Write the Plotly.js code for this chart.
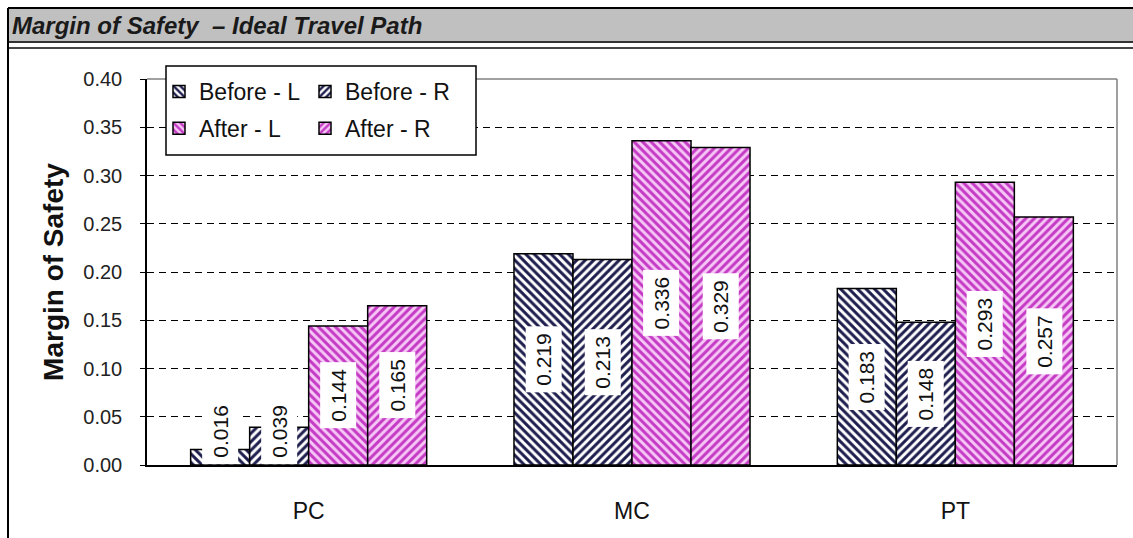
<!DOCTYPE html>
<html>
<head>
<meta charset="utf-8">
<script src="https://cdn.plot.ly/plotly-3.0.1.min.js"></script>
<style>html,body{margin:0;padding:0;background:#fff;}</style>
</head>
<body>
<div id="chart" style="width:1133px;height:538px;"></div>
<script>
const categories = ["PC", "MC", "PT"];
const seriesNames = ["Before - L", "Before - R", "After - L", "After - R"];
const beforeL = [0.016, 0.219, 0.183];
const beforeR = [0.039, 0.213, 0.148];
const afterL = [0.144, 0.336, 0.293];
const afterR = [0.165, 0.329, 0.257];
const yTicks = [0, 0.05, 0.10, 0.15, 0.20, 0.25, 0.30, 0.35, 0.40];

const seriesValues = [beforeL, beforeR, afterL, afterR];
const navy = "#1e1e4e";
const magenta = "#c43ac4";
const styles = [
  {shape: "\\", fg: navy, bg: "#ffffff", legend: "legend"},
  {shape: "/", fg: navy, bg: "#ffffff", legend: "legend2"},
  {shape: "\\", fg: magenta, bg: "#f6c8f6", legend: "legend"},
  {shape: "/", fg: magenta, bg: "#f6c8f6", legend: "legend2"}
];
const bargap = 0.27;

const traces = seriesValues.map((vals, i) => ({
  type: "bar",
  name: seriesNames[i],
  x: categories,
  y: vals,
  legend: styles[i].legend,
  legendgroup: "g" + i,
  marker: {
    color: styles[i].bg,
    line: {color: "#000000", width: 1.5},
    pattern: {shape: styles[i].shape, fgcolor: styles[i].fg, bgcolor: styles[i].bg,
              fillmode: "replace", size: 6, solidity: 0.5}
  },
  hoverinfo: "x+y+name"
}));

const barW = (1 - bargap) / seriesValues.length;
const annotations = [];
seriesValues.forEach((vals, i) => {
  vals.forEach((v, j) => {
    const small = v < 0.07;
    annotations.push({
      xref: "x", yref: "y",
      x: j + (i - (seriesValues.length - 1) / 2) * barW,
      y: small ? 0 : v / 2,
      yanchor: small ? "bottom" : "middle",
      text: v.toFixed(3),
      textangle: -90,
      showarrow: false,
      bgcolor: "#ffffff",
      borderpad: 6,
      font: {family: "Arial, Liberation Sans, sans-serif", size: 21, color: "#111111"}
    });
  });
});

// helper conversions for frame decoration (paper coords)
const L = 147, R = 16, T = 79, B = 73, W = 1133, H = 538;
const pw = W - L - R, ph = H - T - B;
const px = p => (p - L) / pw;
const py = p => (H - B - p) / ph;

const shapes = [
  // title bar
  {type: "rect", xref: "paper", yref: "paper", x0: px(8), x1: px(1140), y0: py(42), y1: py(8),
   fillcolor: "#c0c0c0", line: {width: 0}, layer: "below"},
  {type: "line", xref: "paper", yref: "paper", x0: px(8), x1: px(1140), y0: py(8), y1: py(8),
   line: {color: "#000000", width: 2}},
  {type: "line", xref: "paper", yref: "paper", x0: px(8), x1: px(1140), y0: py(42), y1: py(42),
   line: {color: "#333333", width: 2}},
  {type: "line", xref: "paper", yref: "paper", x0: px(8), x1: px(1140), y0: py(48), y1: py(48),
   line: {color: "#444444", width: 2}},
  // outer left border
  {type: "line", xref: "paper", yref: "paper", x0: px(8), x1: px(8), y0: py(540), y1: py(8),
   line: {color: "#000000", width: 2}},
  // plot frame top / right
  {type: "line", xref: "paper", yref: "paper", x0: 0, x1: 1, y0: 1, y1: 1,
   line: {color: "#808080", width: 1.5}},
  {type: "line", xref: "paper", yref: "paper", x0: 1, x1: 1, y0: 0, y1: 1,
   line: {color: "#808080", width: 1.5}},
  // legend box
  {type: "rect", xref: "paper", yref: "paper", x0: px(166), x1: px(476), y0: py(155), y1: py(66),
   fillcolor: "#ffffff", line: {color: "#000000", width: 1.5}, layer: "above"}
];

const legendBase = {
  bgcolor: "rgba(0,0,0,0)", borderwidth: 0,
  font: {family: "Arial, Liberation Sans, sans-serif", size: 23, color: "#111111"},
  orientation: "v", xanchor: "left", yanchor: "top", y: py(70),
  tracegroupgap: 4
};

const layout = {
  width: W, height: H,
  margin: {l: L, r: R, t: T, b: B},
  paper_bgcolor: "#ffffff", plot_bgcolor: "#ffffff",
  title: {
    text: "Margin of Safety  – Ideal Travel Path",
    xref: "container", yref: "container",
    x: 12 / W, xanchor: "left", y: 1 - 26 / H, yanchor: "middle",
    font: {family: "Arial, Liberation Sans, sans-serif", size: 24, weight: 700, style: "italic", color: "#1a1a1a"}
  },
  barmode: "group", bargap: bargap, bargroupgap: 0,
  xaxis: {
    type: "category",
    showline: true, linecolor: "#000000", linewidth: 1.5,
    ticks: "", showgrid: false,
    tickfont: {family: "Arial, Liberation Sans, sans-serif", size: 23, color: "#111111"},
    ticklabelstandoff: 25
  },
  yaxis: {
    range: [0, 0.4],
    tickvals: yTicks, tickformat: ".2f",
    showline: true, linecolor: "#000000", linewidth: 1.5,
    ticks: "outside", ticklen: 5, tickcolor: "#000000",
    showgrid: true, gridcolor: "#000000", gridwidth: 1, griddash: "7px,5px",
    zeroline: false,
    tickfont: {family: "Arial, Liberation Sans, sans-serif", size: 20, color: "#222222"},
    ticklabelstandoff: 14,
    title: {text: "Margin of Safety", standoff: 12,
            font: {family: "Arial, Liberation Sans, sans-serif", size: 28, weight: 700, color: "#111111"}}
  },
  legend: Object.assign({}, legendBase, {x: px(159)}),
  legend2: Object.assign({}, legendBase, {x: px(305)}),
  shapes: shapes,
  annotations: annotations
};

Plotly.newPlot("chart", traces, layout, {displayModeBar: false, responsive: false});
</script>
</body>
</html>
